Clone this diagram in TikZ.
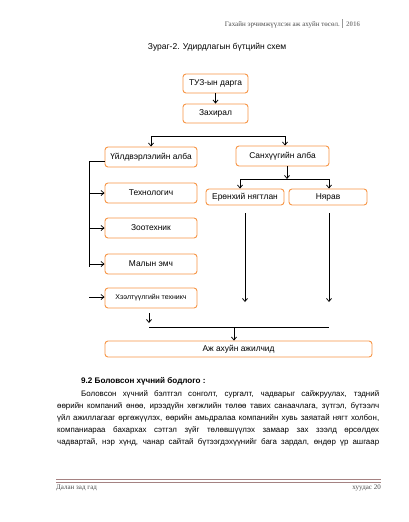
\documentclass[tikz,border=0pt]{standalone}
\usepackage{fontspec}
\setmainfont{Liberation Sans}
\newfontfamily\hdrfont{Liberation Serif}
\usetikzlibrary{arrows.meta}
\definecolor{boxorange}{RGB}{247,150,70}
\definecolor{rulebrown}{RGB}{165,130,130}

\begin{document}
\begin{tikzpicture}[x=1pt, y=-1pt,
        bx/.style={draw=boxorange, line width=.9pt, rounded corners=3pt, fill=white,
          inner sep=1pt, font=\fontsize{8.4}{10}\selectfont},
        top/.style={bx, minimum width=65pt, minimum height=19pt},
        unit/.style={bx, minimum width=92pt, minimum height=20pt},
        acc/.style={bx, minimum width=78pt, minimum height=16pt},
        ln/.style={line width=.75pt},
        arr/.style={ln, -{Straight Barb[length=3pt,width=5pt]}},
        hdr/.style={font=\hdrfont\fontsize{7}{8}\selectfont, text=black!70, inner sep=0pt},
        txt/.style={font=\fontsize{7.9}{9}\selectfont, anchor=base west, inner sep=0pt}]

      \useasboundingbox[fill=white] (0,0) rectangle (408,522);

      % page header
      \node[hdr, anchor=base east] (hdrtxt) at (340,27) {Гахайн эрчимжүүлсэн аж ахуйн төсөл.};
      \draw[black!40, line width=.6pt] (342.5,19) -- (342.5,28);
      \node[hdr, anchor=base west, text=black!45] (year) at (346,27) {\bfseries 2016};

      % title
      \node[font=\fontsize{8.5}{10}\selectfont, inner sep=0pt] (title) at (217,47)
        {Зураг-2. Удирдлагын бүтцийн схем};

      % top of the chart
      \node[top] (tuz) at (215.5,83.5) {ТУЗ-ын дарга};
      \node[top] (zahiral) at (215.5,113.5) {Захирал};
      \draw[arr] (tuz) -- (zahiral);

      % the two departments
      \node[unit] (uildver) at (151,157) {Үйлдвэрлэлийн алба};
      \node[unit, minimum width=93pt] (sanhuu) at (282.5,156) {Санхүүгийн алба};
      \coordinate (h1) at (151,136);
      \coordinate (h2) at (285,136);
      \draw[ln] (h1) -- (h2);
      \draw[arr] (h1) -- (uildver.north);
      \draw[arr] (h2) -- (h2 |- sanhuu.north);

      % production staff
      \node[unit] (tech) at (151,193) {Технологич};
      \node[unit] (zoo) at (151,228) {Зоотехник};
      \node[unit] (mal) at (151,264) {Малын эмч};
      \node[unit, font=\fontsize{7}{8}\selectfont] (heel) at (151,298) {Хээлтүүлгийн техникч};
      \coordinate (lt) at (89,161);
      \coordinate (lb) at (89,267);
      \coordinate (hl) at (89,297);
      \draw[ln] (uildver.west |- lt) -- (lt) -- (lb);
      \draw[arr] (lt |- tech.west) -- (tech.west);
      \draw[arr] (lt |- zoo.west) -- (zoo.west);
      \draw[arr] (lt |- mal.west) -- (mal.west);
      \draw[arr] (hl) -- (hl -| heel.west);

      % accounting staff
      \node[acc] (yerunhii) at (245,197) {Ерөнхий нягтлан};
      \node[acc] (nyarav) at (328,197) {Нярав};
      \coordinate (s1) at (240,179);
      \coordinate (s2) at (329,179);
      \draw[arr] (sanhuu.south -| 287,0) -- (287,179);
      \draw[ln] (s1) -- (s2);
      \draw[arr] (s1) -- (s1 |- yerunhii.north);
      \draw[arr] (s2) -- (s2 |- nyarav.north);
      \coordinate (y1) at (245,213);
      \coordinate (y2) at (245,302);
      \coordinate (n1) at (329,213);
      \coordinate (n2) at (329,302);
      \draw[arr] (y1) -- (y2);
      \draw[arr] (n1) -- (n2);

      % workers
      \node[bx, minimum width=267pt, minimum height=16pt] (ajilchid) at (238.5,349) {Аж ахуйн ажилчид};
      \coordinate (w0) at (149,313);
      \coordinate (w1) at (149,327);
      \coordinate (w2) at (329,327);
      \coordinate (w3) at (234,327);
      \draw[arr] (w0) -- (149,323);
      \draw[ln] (w1) -- (w2);
      \draw[arr] (w3) -- (w3 |- ajilchid.north);

      % text below the chart
      \node[txt, font=\fontsize{8.1}{9}\selectfont\bfseries] (sechead) at (81,383)
        {9.2 Боловсон хүчний бодлого :};
      \node[txt] (l1) at (81,396) {\makebox[298pt][s]{Боловсон хүчний бэлтгэл сонголт, сургалт, чадварыг сайжруулах, тэдний}};
      \node[txt] (l2) at (57,408) {\makebox[322pt][s]{өөрийн компаний өнөө, ирээдүйн хөгжлийн төлөө тавих санаачлага, зүтгэл, бүтээлч}};
      \node[txt] (l3) at (57,420) {\makebox[322pt][s]{үйл ажиллагааг өргөжүүлэх, өөрийн амьдралаа компанийн хувь заяатай нягт холбон,}};
      \node[txt] (l4) at (57,432) {\makebox[322pt][s]{компаниараа бахархах сэтгэл зүйг төлөвшүүлэх замаар зах зээлд өрсөлдөх}};
      \node[txt] (l5) at (57,444) {\makebox[322pt][s]{чадвартай, нэр хүнд, чанар сайтай бүтээгдэхүүнийг бага зардал, өндөр үр ашгаар}};

      % page footer
      \draw[rulebrown, line width=1.5pt] (56,479.5) -- (381,479.5);
      \draw[rulebrown, line width=.5pt] (56,482) -- (381,482);
      \node[hdr, anchor=base west] (fleft) at (56,489) {Далан зад гад};
      \node[hdr, anchor=base east] (fright) at (381,489) {хуудас 20};
    \end{tikzpicture}
\end{document}
